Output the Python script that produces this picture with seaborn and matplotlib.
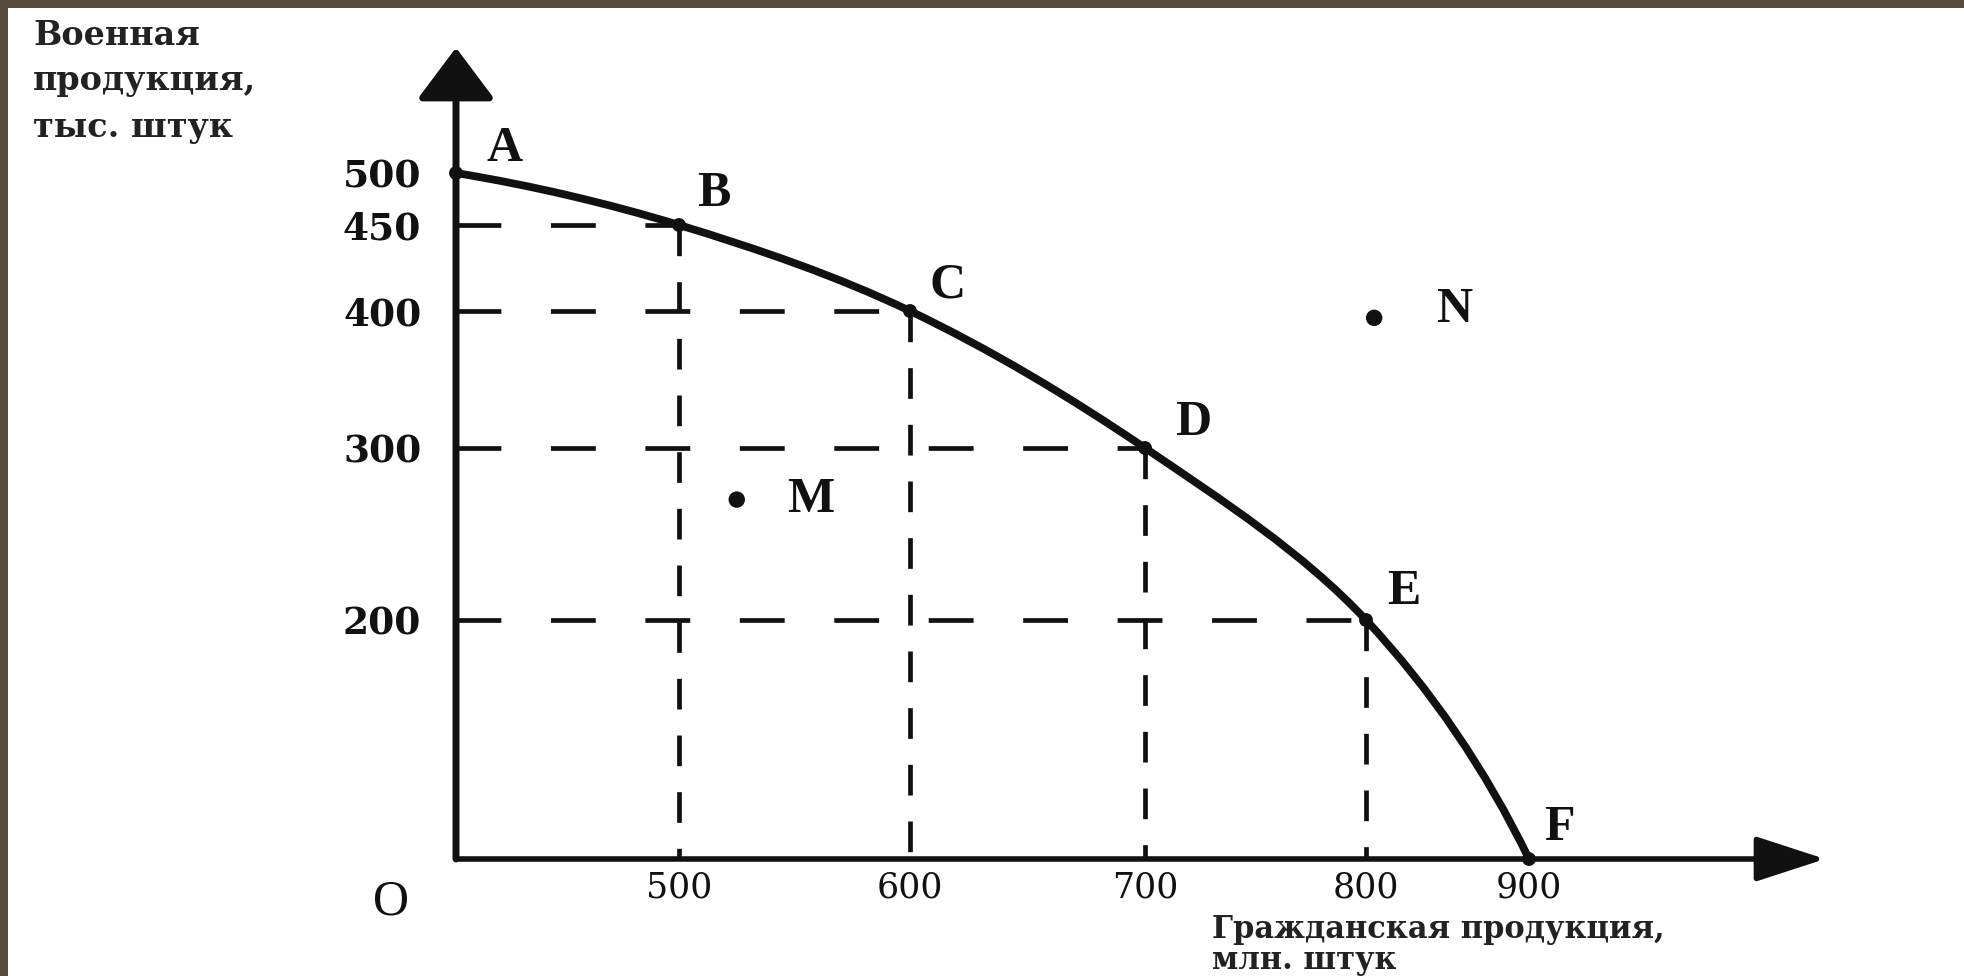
import numpy as np
import pandas as pd
import matplotlib
matplotlib.use('Agg')
import matplotlib.pyplot as plt
import seaborn as sns
from matplotlib.path import Path
from matplotlib.patches import PathPatch

# production possibilities: civil (x) vs military (y)
points = ['A', 'B', 'C', 'D', 'E', 'F']
civil = [0, 500, 600, 700, 800, 900]
military = [500, 450, 400, 300, 200, 0]

extra_names = ['M', 'N']
extra_civil = [525, 805]
extra_military = [270, 395]

x_ticks = [500, 600, 700, 800, 900]
y_ticks = [200, 300, 400, 450, 500]

y_title = ['Военная', 'продукция,', 'тыс. штук']
x_title = ['Гражданская продукция,', 'млн. штук']

# the drawing uses a schematic (non-uniform) scale: value -> figure pixel
W, H, BORDER = 1964, 976, 8
X_BREAKS = [0, 500, 600, 700, 800, 900]
X_PIX = [456, 679, 910, 1145, 1366, 1529]
Y_BREAKS = [0, 200, 300, 400, 450, 500]
Y_PIX = [117, 356, 528, 665, 751, 803]


def piecewise(v, src, dst):
    v = np.asarray(v, dtype=float)
    out = np.interp(v, src, dst)
    lo = (dst[1] - dst[0]) / (src[1] - src[0])
    hi = (dst[-1] - dst[-2]) / (src[-1] - src[-2])
    out = np.where(v < src[0], dst[0] + (v - src[0]) * lo, out)
    out = np.where(v > src[-1], dst[-1] + (v - src[-1]) * hi, out)
    return out


fx = lambda v: piecewise(v, X_BREAKS, X_PIX)
ix = lambda p: piecewise(p, X_PIX, X_BREAKS)
fy = lambda v: piecewise(v, Y_BREAKS, Y_PIX)
iy = lambda p: piecewise(p, Y_PIX, Y_BREAKS)

sns.set_style('white')
INK = '#111111'

fig = plt.figure(figsize=(W / 100, H / 100), dpi=100, facecolor='#574b3d')
ax = fig.add_axes([BORDER / W, 0, 1 - BORDER / W, 1 - BORDER / H])
ax.set_facecolor('white')
ax.set_xscale('function', functions=(fx, ix))
ax.set_yscale('function', functions=(fy, iy))

# dashed guide lines from B..E to both axes
h_rows, v_rows = [], []
for i in range(1, len(points) - 1):
    h_rows += [(points[i], 0, military[i]), (points[i], civil[i], military[i])]
    v_rows += [(points[i], civil[i], military[i]), (points[i], civil[i], 0)]
h_df = pd.DataFrame(h_rows, columns=['seg', 'x', 'y'])
v_df = pd.DataFrame(v_rows, columns=['seg', 'x', 'y'])
sns.lineplot(data=h_df, x='x', y='y', units='seg', estimator=None, sort=False,
             color=INK, lw=3.4, linestyle=(0, (9.5, 10.5)), ax=ax)
sns.lineplot(data=v_df, x='x', y='y', units='seg', estimator=None, sort=False,
             color=INK, lw=3.4, linestyle=(0, (6.5, 5.5)), ax=ax)

# smooth frontier through A..F (Hermite tangents, drawn as cubic Bezier)
P = np.column_stack([fx(civil), fy(military)])
t = np.concatenate([[0], np.cumsum(np.hypot(*np.diff(P, axis=0).T))])
m = np.zeros_like(P)
m[1:-1] = (P[2:] - P[:-2]) / (t[2:] - t[:-2])[:, None]
m[0] = 2 * (P[1] - P[0]) / (t[1] - t[0]) - m[1]
m[-1] = 2 * (P[-1] - P[-2]) / (t[-1] - t[-2]) - m[-2]
verts, codes = [P[0]], [Path.MOVETO]
for i in range(len(P) - 1):
    dt = t[i + 1] - t[i]
    verts += [P[i] + m[i] * dt / 3, P[i + 1] - m[i + 1] * dt / 3, P[i + 1]]
    codes += [Path.CURVE4] * 3
verts = np.array(verts)
curve = Path(np.column_stack([ix(verts[:, 0]), iy(verts[:, 1])]), codes)
ax.add_patch(PathPatch(curve, fill=False, ec=INK, lw=5.6, capstyle='round',
                       transform=ax.transData, zorder=4))

sns.scatterplot(x=civil, y=military, s=100, color=INK, edgecolor='none', zorder=5, ax=ax)
sns.scatterplot(x=extra_civil, y=extra_military, s=140, color=INK, edgecolor='none', zorder=5, ax=ax)

# point letters
label_offsets = [(35, 17), (25, 22), (27, 18), (35, 18), (27, 20), (22, 22)]
for name, x, y, off in zip(points, civil, military, label_offsets):
    ax.annotate(name, (x, y), xytext=off, textcoords='offset points', ha='center',
                va='center', fontsize=36, fontweight='bold', family='Liberation Serif', color=INK)
for name, x, y, off in zip(extra_names, extra_civil, extra_military, [(53, 0), (58, 6)]):
    ax.annotate(name, (x, y), xytext=off, textcoords='offset points', ha='center',
                va='center', fontsize=36, fontweight='bold', family='Liberation Serif', color=INK)

# axes with arrows
ax.annotate('', xy=(0.929, 0), xycoords=('axes fraction', 'data'), xytext=(0, 0), textcoords='data',
            arrowprops=dict(arrowstyle='-|>,head_length=4.3,head_width=1.4', mutation_scale=10,
                            lw=4.0, color=INK, shrinkA=0, shrinkB=0))
ax.annotate('', xy=(0, 0.959), xycoords=('data', 'axes fraction'), xytext=(0, 0), textcoords='data',
            arrowprops=dict(arrowstyle='-|>,head_length=3.2,head_width=2.4', mutation_scale=10,
                            lw=5.0, color=INK, shrinkA=0, shrinkB=0))

# ticks sit on the axes through the origin
ax.spines['bottom'].set_position(('data', 0))
ax.spines['left'].set_position(('data', 0))
for s in ax.spines.values():
    s.set_color('none')
ax.set_xticks(x_ticks, labels=[str(t) for t in x_ticks])
ax.set_yticks(y_ticks, labels=[str(t) for t in y_ticks])
ax.tick_params(axis='both', length=0)
ax.tick_params(axis='x', pad=8)
ax.tick_params(axis='y', pad=25)
for lab in ax.get_xticklabels():
    lab.set_fontfamily('DejaVu Serif')
    lab.set_fontsize(25)
    lab.set_color(INK)
for lab in ax.get_yticklabels():
    lab.set_fontfamily('DejaVu Serif')
    lab.set_fontweight('bold')
    lab.set_fontsize(27)
    lab.set_color(INK)
ax.set_xlabel('')
ax.set_ylabel('')
ax.grid(False)

ax.set_xlim(ix(BORDER), ix(W))
ax.set_ylim(iy(0), iy(H - BORDER))

# titles and origin mark
for txt, base in zip(y_title, [931, 886, 839]):
    fig.text(33 / W, base / H, txt, ha='left', va='baseline', fontsize=24,
             fontweight='bold', family='DejaVu Serif', color='#222222')
for txt, base in zip(x_title, [38, 7]):
    fig.text(1212 / W, base / H, txt, ha='left', va='baseline', fontsize=22,
             fontweight='bold', family='DejaVu Serif', color='#222222')
fig.text(391 / W, 74 / H, 'O', ha='center', va='center', fontsize=36,
         family='Liberation Serif', color=INK)

fig.savefig('out.png', dpi=100, facecolor=fig.get_facecolor())
